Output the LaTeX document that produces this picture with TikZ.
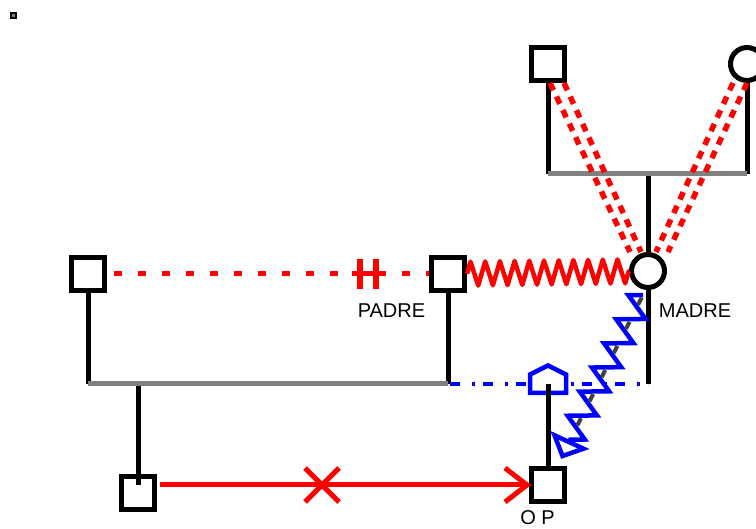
\documentclass[tikz,border=0pt]{standalone}
\usepackage{fontspec}
\setmainfont{Liberation Sans}
\usetikzlibrary{decorations.pathmorphing,calc}
\definecolor{linegray}{RGB}{128,128,128}
\definecolor{darkgray}{RGB}{64,64,64}
\begin{document}
\begin{tikzpicture}[x=1pt,y=-1pt,
  sq/.style={draw,line width=5pt,minimum size=33pt,inner sep=0pt,fill=white},
  ci/.style={circle,draw,line width=5pt,minimum size=33pt,inner sep=0pt,fill=white},
  blk/.style={line width=5pt,black},
  famline/.style={line width=5pt,draw=linegray},
  redln/.style={line width=5pt,red},
  reddot/.style={line width=5.5pt,red,dash pattern=on 8pt off 7pt},
  reddash/.style={line width=5pt,red,dash pattern=on 8pt off 16pt,dash phase=17pt},
  redzig/.style={line width=4.5pt,red,line join=round,decorate,
    decoration={zigzag,segment length=14.7pt,amplitude=12pt}},
  bluedd/.style={line width=4.5pt,blue,dash pattern=on 10pt off 12pt on 3pt off 8pt,dash phase=31pt},
  blueln/.style={line width=4.5pt,blue,line join=miter},
  bluezig/.style={blueln,decorate,
    decoration={zigzag,mirror,segment length=27pt,amplitude=13pt}},
  lbl/.style={font=\fontsize{20}{24}\selectfont,anchor=base,inner sep=0pt}
]
\useasboundingbox (0,0) rectangle (756,529);

% small corner marker
\node[draw,line width=2pt,fill=gray,minimum size=5pt,inner sep=0pt] (mk) at (13,16) {};

% persons
\node[sq] (gf) at (548,64) {};
\node[ci] (gm) at (747,64) {};
\node[ci] (m)  at (648,271) {};
\node[sq] (p)  at (448,274) {};
\node[sq] (l)  at (88,274) {};
\node[sq] (c1) at (138,493) {};
\node[sq] (op) at (548,485) {};

% family line junctions
\coordinate (gpL) at (548,174);
\coordinate (gpR) at (747,174);
\coordinate (gpC) at (648,174);
\coordinate (f1L) at (88,384);
\coordinate (f1R) at (448,384);
\coordinate (f1C) at (138,384);
\coordinate (f2R) at (648,384);
\coordinate (pc)  at (548,384);

% descent lines
\draw[blk] (gf) -- (gpL);
\draw[blk] (gm) -- (gpR);
\draw[blk] (gpC) -- (m);
\draw[blk] (l) -- (f1L);
\draw[blk] (p) -- (f1R);
\draw[blk] (m) -- (f2R);
\draw[blk] (f1C) -- ([yshift=8pt]c1.center);

% partnership lines
\draw[famline] (gpL) -- (gpR);
\draw[famline] (f1L) -- (f1R);
\draw[bluedd] (f1R) -- (f2R);

% house symbol on the blue line
\draw[blueln,fill=white]
  (548,365.5) -- (566,374.5) -- (566,393) -- (530,393) -- (530,374.5) -- cycle;
\draw[blk] (pc) -- (op);

% grandparents to mother: double dotted lines
\draw[reddot] ([xshift=2pt]gf.south) -- ([xshift=-18pt,yshift=19pt]m.center);
\draw[reddot] ([xshift=16pt]gf.south) -- ([xshift=-7pt,yshift=19pt]m.center);
\draw[reddot] ([xshift=-14pt]gm.south) -- ([xshift=8pt,yshift=19pt]m.center);
\draw[reddot] (gm.south) -- ([xshift=20pt,yshift=19pt]m.center);

% dashed line with separation marks
\draw[reddash] (l) -- (p);
\coordinate (sep) at (368,274);
\draw[redln] ($(sep)+(-16,0)$) -- ($(sep)+(16,0)$);
\draw[redln,line width=6pt] ($(sep)+(-8,-15)$) -- ($(sep)+(-8,15)$);
\draw[redln,line width=6pt] ($(sep)+(8,-15)$) -- ($(sep)+(8,15)$);

% zigzag between father and mother
\draw[redzig] (p) -- (m);

% crossed arrow between the children
\draw[redln] ([xshift=3pt]c1.east |- op) -- ([xshift=-2pt]op.west);
\draw[redln] ([xshift=-24pt,yshift=-17pt]op.west) -- ([xshift=-2pt]op.west)
  -- ([xshift=-24pt,yshift=17pt]op.west);
\coordinate (xm) at (322,485);
\draw[redln] ($(xm)+(-17,-17)$) -- ($(xm)+(17,17)$);
\draw[redln] ($(xm)+(-17,17)$) -- ($(xm)+(17,-17)$);

% blue zigzag arrow from the mother, with an open triangular head
\coordinate (zs) at ($(m)+(-5,24)$);
\coordinate (zb) at (569,442);
\coordinate (zt) at (562.5,456);
\draw[bluezig] (zs) -- (zb);
\draw[blueln] ($(zb)+(14.5,6.7)$) -- (zt) -- ($(zb)+(-14.5,-6.7)$) -- cycle;
\draw[line width=4pt,darkgray,dash pattern=on 8pt off 19pt,dash phase=24pt] (zs) -- (zb);

% labels
\node[lbl] (lp) at (391.5,318) {PADRE};
\node[lbl] (lm) at (695,318) {MADRE};
\node[lbl] (lo) at (537.5,525) {O P};
\end{tikzpicture}
\end{document}
